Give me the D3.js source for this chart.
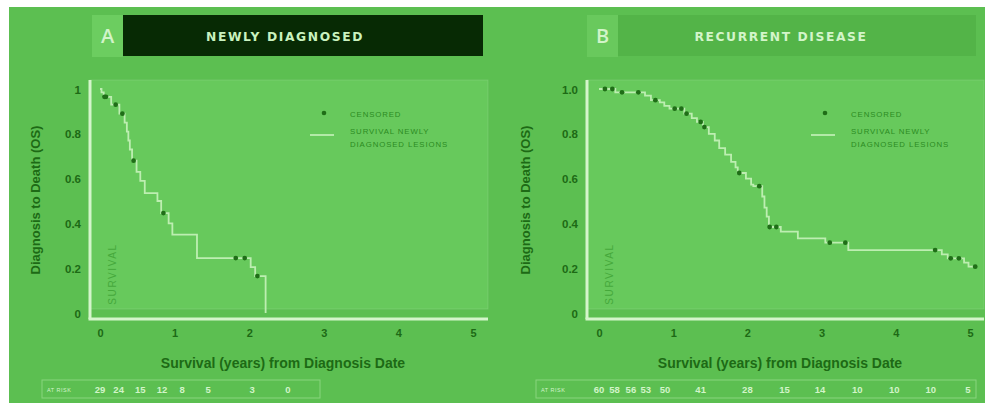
<!DOCTYPE html>
<html>
<head>
<meta charset="utf-8">
<script src="https://cdn.jsdelivr.net/npm/d3@7/dist/d3.min.js"></script>
<style>
  html, body { margin: 0; padding: 0; background: #ffffff; }
  svg { display: block; }
</style>
</head>
<body>
<svg id="chart" width="986" height="405"></svg>
<script>
// ---- data ----
const xTicks = [0, 1, 2, 3, 4, 5];
const yTicks = [0, 0.2, 0.4, 0.6, 0.8, 1];
const yTickLabelsA = ["0", "0.2", "0.4", "0.6", "0.8", "1"];
const yTickLabelsB = ["0", "0.2", "0.4", "0.6", "0.8", "1.0"];

// Kaplan–Meier steps: [time (years), survival after the step]
const stepsA = [
  [0, 1.0], [0.02, 0.985], [0.05, 0.965], [0.15, 0.93], [0.26, 0.89],
  [0.33, 0.85], [0.36, 0.81], [0.38, 0.77], [0.40, 0.73], [0.43, 0.68],
  [0.49, 0.63], [0.54, 0.59], [0.60, 0.535], [0.77, 0.50], [0.82, 0.446],
  [0.92, 0.40], [0.97, 0.35], [1.30, 0.245], [2.02, 0.205], [2.08, 0.165],
  [2.22, 0.0]
];
const censoredA = [
  [0.06, 0.965], [0.08, 0.965], [0.21, 0.93], [0.30, 0.89], [0.45, 0.68],
  [0.85, 0.446], [1.82, 0.245], [1.94, 0.245], [2.11, 0.165]
];
const atRiskTimesA = [0, 0.25, 0.54, 0.83, 1.1, 1.45, 2.04, 2.52];
const atRiskA = [29, 24, 15, 12, 8, 5, 3, 0];

const stepsB = [
  [0, 1.0], [0.22, 0.985], [0.62, 0.97], [0.70, 0.95], [0.82, 0.94],
  [0.88, 0.925], [0.95, 0.912], [1.15, 0.89], [1.25, 0.87], [1.32, 0.853],
  [1.40, 0.83], [1.48, 0.80], [1.56, 0.77], [1.62, 0.736], [1.70, 0.707],
  [1.78, 0.675], [1.84, 0.65], [1.87, 0.625], [1.98, 0.60], [2.05, 0.573],
  [2.08, 0.566], [2.20, 0.52], [2.23, 0.47], [2.26, 0.43], [2.29, 0.384],
  [2.45, 0.363], [2.68, 0.333], [3.05, 0.314], [3.36, 0.281], [4.62, 0.262],
  [4.70, 0.244], [4.92, 0.225], [4.98, 0.207], [5.07, 0.207]
];
const censoredB = [
  [0.08, 1.0], [0.18, 1.0], [0.31, 0.985], [0.53, 0.985], [0.76, 0.95],
  [1.02, 0.912], [1.11, 0.912], [1.18, 0.89], [1.37, 0.853], [1.42, 0.83],
  [1.89, 0.625], [2.16, 0.566], [2.30, 0.384], [2.39, 0.384], [3.11, 0.314],
  [3.32, 0.314], [4.53, 0.281], [4.74, 0.244], [4.85, 0.244], [5.07, 0.207]
];
const atRiskTimesB = [0, 0.21, 0.43, 0.63, 0.89, 1.37, 2.0, 2.5, 2.98, 3.48, 3.98, 4.47, 4.97];
const atRiskB = [60, 58, 56, 53, 50, 41, 28, 15, 14, 10, 10, 10, 5];

const legendCensored = "CENSORED";
const legendLine = ["SURVIVAL NEWLY", "DIAGNOSED LESIONS"];
const xTitle = "Survival (years) from Diagnosis Date";
const yTitle = "Diagnosis to Death (OS)";

// ---- styling ----
const C = {
  bg: "#5cbf51",
  panel: "#67c95c",
  axis: "#d4f5cb",
  curve: "#bdeeb1",
  dot: "#1f6e17",
  dark: "#1d6a15",
  legend: "#2b8b22",
  pale: "#d2f4c9",
  faint: "#45a83b"
};
const FONT = "'Liberation Sans', Arial, sans-serif";

const svg = d3.select("#chart");
svg.append("rect").attr("x", 9).attr("y", 7).attr("width", 976).attr("height", 396).attr("fill", C.bg);

function drawPanel(cfg) {
  const g = svg.append("g");
  const x = d3.scaleLinear().domain([0, 5]).range([cfg.x0, cfg.x5]);
  const y = d3.scaleLinear().domain([0, 1]).range([313, 89]);

  // header: letter box + title bar
  g.append("rect").attr("x", cfg.hx).attr("y", 15).attr("width", 31).attr("height", 42).attr("fill", cfg.letterFill);
  g.append("rect").attr("x", cfg.hx + 31).attr("y", 15).attr("width", cfg.barW).attr("height", 41).attr("fill", cfg.barFill);
  g.append("text").attr("x", cfg.hx + 15.5).attr("y", 43).attr("text-anchor", "middle")
    .attr("font-family", "'Open Sans', sans-serif").attr("font-size", 20).attr("font-weight", 600)
    .attr("fill", C.pale).text(cfg.letter);
  g.append("text").attr("x", cfg.titleX).attr("y", 40.5).attr("text-anchor", "middle")
    .attr("font-family", "'DejaVu Sans', sans-serif").attr("font-size", 12.3).attr("font-weight", "bold")
    .attr("letter-spacing", 1.6).attr("fill", cfg.titleFill).text(cfg.title);

  // plot panel
  g.append("rect").attr("x", cfg.axisX).attr("y", 80).attr("width", cfg.panelR - cfg.axisX).attr("height", 229)
    .attr("fill", C.panel).attr("stroke", "rgba(255,255,255,0.12)").attr("stroke-width", 1);

  // axis lines
  g.append("line").attr("x1", cfg.axisX).attr("x2", cfg.axisX).attr("y1", 80).attr("y2", 319)
    .attr("stroke", C.axis).attr("stroke-width", 3);
  g.append("line").attr("x1", cfg.axisX - 1.5).attr("x2", cfg.panelR).attr("y1", 319).attr("y2", 319)
    .attr("stroke", C.axis).attr("stroke-width", 3);

  // y axis labels
  const yAx = d3.axisLeft(y).tickValues(yTicks).tickSize(0).tickPadding(0)
    .tickFormat((d, i) => cfg.yLabels[i]);
  const yG = g.append("g").attr("transform", `translate(${cfg.axisX - 9},0)`).call(yAx);
  yG.select(".domain").remove();
  yG.selectAll("text").attr("font-family", FONT).attr("font-size", 11.5).attr("font-weight", "bold")
    .attr("fill", C.dark).attr("dy", "0.35em");

  // x axis labels
  const xAx = d3.axisBottom(x).tickValues(xTicks).tickSize(0).tickPadding(0).tickFormat(d3.format("d"));
  const xG = g.append("g").attr("transform", "translate(0,330)").call(xAx);
  xG.select(".domain").remove();
  xG.selectAll("text").attr("font-family", FONT).attr("font-size", 11).attr("font-weight", "bold")
    .attr("fill", C.dark).attr("dy", "0.6em");

  // axis titles
  g.append("text").attr("x", cfg.xTitleX).attr("y", 368).attr("text-anchor", "middle")
    .attr("font-family", FONT).attr("font-size", 14).attr("font-weight", "bold")
    .attr("fill", C.dark).text(xTitle);
  g.append("text").attr("transform", `translate(${cfg.yTitleX},200) rotate(-90)`).attr("text-anchor", "middle")
    .attr("font-family", FONT).attr("font-size", 13).attr("font-weight", "bold")
    .attr("fill", C.dark).text(yTitle);

  // inner vertical label
  g.append("text").attr("transform", `translate(${cfg.axisX + 26},274) rotate(-90)`).attr("text-anchor", "middle")
    .attr("font-family", FONT).attr("font-size", 10).attr("letter-spacing", 1.6)
    .attr("fill", C.faint).text("SURVIVAL");

  // survival curve
  const line = d3.line().x(d => x(d[0])).y(d => y(d[1])).curve(d3.curveStepAfter);
  g.append("path").datum(cfg.steps).attr("d", line).attr("fill", "none")
    .attr("stroke", C.curve).attr("stroke-width", 1.8);

  // censored marks
  g.selectAll(null).data(cfg.censored).join("circle")
    .attr("cx", d => x(d[0])).attr("cy", d => y(d[1])).attr("r", 2.4).attr("fill", C.dot);

  // legend
  const lx = cfg.legendX;
  g.append("circle").attr("cx", lx + 14).attr("cy", 113).attr("r", 2.3).attr("fill", C.dot);
  g.append("line").attr("x1", lx).attr("x2", lx + 24).attr("y1", 135).attr("y2", 135)
    .attr("stroke", C.curve).attr("stroke-width", 1.8);
  const lt = g.append("g").attr("font-family", FONT).attr("font-size", 7.8)
    .attr("letter-spacing", 0.9).attr("fill", C.legend);
  lt.append("text").attr("x", lx + 40).attr("y", 116.5).text(legendCensored);
  lt.append("text").attr("x", lx + 40).attr("y", 134).text(legendLine[0]);
  lt.append("text").attr("x", lx + 40).attr("y", 147).text(legendLine[1]);

  // number at risk
  g.append("rect").attr("x", cfg.riskX0).attr("y", 380).attr("width", cfg.riskX1 - cfg.riskX0).attr("height", 18)
    .attr("fill", "none").attr("stroke", "rgba(220,255,210,0.35)").attr("stroke-width", 1);
  g.append("text").attr("x", cfg.riskX0 + 5).attr("y", 391.5)
    .attr("font-family", FONT).attr("font-size", 5.5).attr("letter-spacing", 0.5)
    .attr("fill", C.pale).text("AT RISK");
  g.selectAll(null).data(cfg.riskN).join("text")
    .attr("x", (d, i) => x(cfg.riskT[i])).attr("y", 392.5).attr("text-anchor", "middle")
    .attr("font-family", FONT).attr("font-size", 9.5).attr("font-weight", "bold")
    .attr("fill", C.pale).text(d => d);
}

drawPanel({
  letter: "A", title: "NEWLY DIAGNOSED", hx: 92, barW: 360, barFill: "#072a04",
  letterFill: "#6ccd60", titleX: 285, titleFill: "#c9f2bf",
  x0: 100, x5: 473, axisX: 90, panelR: 488, yLabels: yTickLabelsA,
  xTitleX: 283, yTitleX: 40, legendX: 310,
  steps: stepsA, censored: censoredA,
  riskX0: 42, riskX1: 320, riskT: atRiskTimesA, riskN: atRiskA
});

drawPanel({
  letter: "B", title: "RECURRENT DISEASE", hx: 587, barW: 358, barFill: "#53b448",
  letterFill: "#69c95d", titleX: 781, titleFill: "#d3f5ca",
  x0: 599, x5: 970, axisX: 587, panelR: 984, yLabels: yTickLabelsB,
  xTitleX: 780, yTitleX: 530, legendX: 811,
  steps: stepsB, censored: censoredB,
  riskX0: 536, riskX1: 976, riskT: atRiskTimesB, riskN: atRiskB
});
</script>
</body>
</html>
